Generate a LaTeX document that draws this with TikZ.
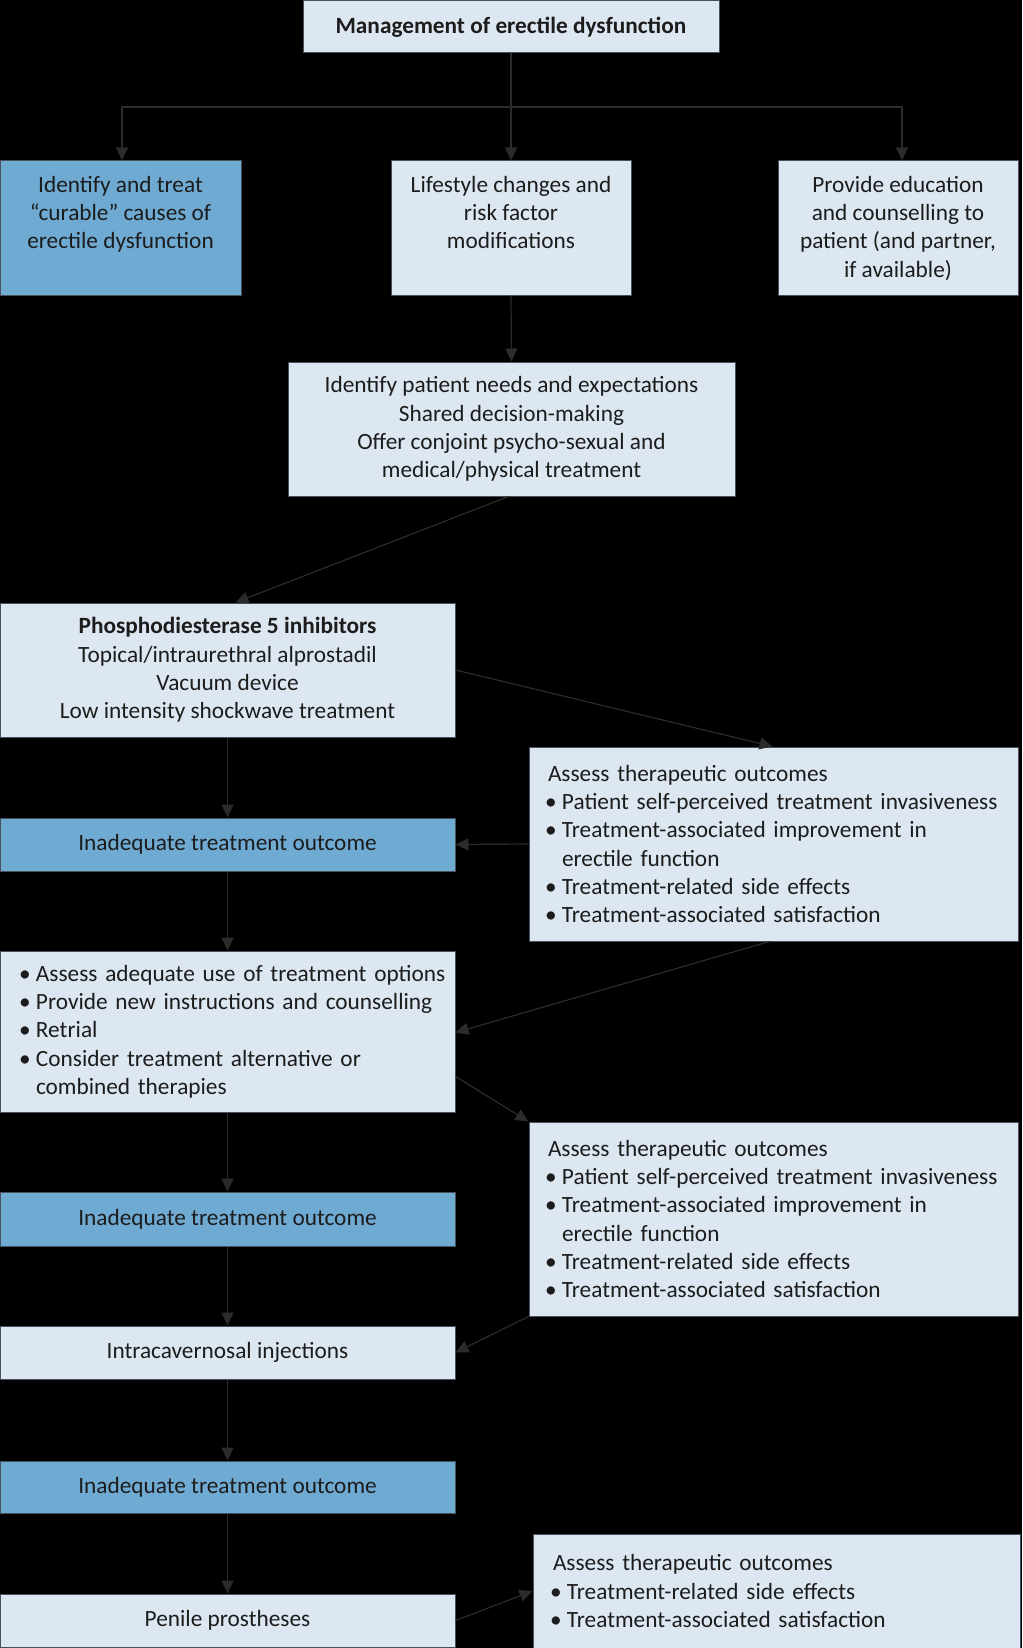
\documentclass[tikz,border=0pt]{standalone}
\usepackage{fontspec}
\setmainfont{Carlito}
\usetikzlibrary{arrows.meta,calc}
\definecolor{lightfill}{HTML}{DDE7F2}
\definecolor{darkfill}{HTML}{6FAAD3}
\definecolor{boxedge}{HTML}{46525E}
\definecolor{arrowc}{HTML}{2B2B2B}
\definecolor{txt}{HTML}{1C1C1C}
\newcommand{\bulitem}{\makebox[14pt][l]{\hspace{-3pt}•}}
\newcommand{\hangind}{\hspace*{14pt}}
\tikzset{
  box/.style={draw=boxedge, line width=1pt, fill=lightfill, text=txt, inner sep=0pt, align=center,
    font=\fontsize{23.3}{28.3}\selectfont},
  darkbox/.style={box, fill=darkfill},
  arr/.style={draw=arrowc, line width=1.2pt, -{Triangle[length=13pt,width=12pt]}},
}
\begin{document}
\begin{tikzpicture}[x=1pt,y=-1pt]
\fill[black] (0,0) rectangle (1022,1648);
\useasboundingbox (0,0) rectangle (1022,1648);

\node[box, minimum width=416, minimum height=52] (top) at (511,27) {\textbf{Management of erectile dysfunction}};

\node[darkbox] (L1) at (120.5,228) {\parbox[c][134pt][t]{241pt}{\centering\vspace{15pt}Identify and treat\\ “curable” causes of\\ erectile dysfunction}};
\node[box] (M1) at (511,228) {\parbox[c][134pt][t]{240pt}{\centering\vspace{15pt}Lifestyle changes and\\ risk factor\\ modifications}};
\node[box] (R1) at (898,228) {\parbox[c][134pt][t]{240pt}{\centering\vspace{15pt}Provide education\\ and counselling to\\ patient (and partner,\\ if available)}};

\node[box, minimum width=447, minimum height=134] (ident) at (511.5,429) {Identify patient needs and expectations\\ Shared decision-making\\ Offer conjoint psycho-sexual and\\ medical/physical treatment};

\node[box, minimum width=455, minimum height=134] (phos) at (227.5,670) {\textbf{Phosphodiesterase 5 inhibitors}\\ Topical/intraurethral alprostadil\\ Vacuum device\\ Low intensity shockwave treatment};

\node[box, align=left, text width=451pt, inner xsep=19pt, minimum height=194] (as1) at (773.5,844) {Assess therapeutic outcomes\\ \bulitem \mbox{Patient self-perceived treatment invasiveness}\\ \bulitem Treatment-associated improvement in\\ \hangind erectile function\\ \bulitem Treatment-related side effects\\ \bulitem Treatment-associated satisfaction};

\node[darkbox, minimum width=455, minimum height=53] (inad1) at (227.5,844.5) {Inadequate treatment outcome};

\node[box, align=left, text width=411pt, inner xsep=22pt, minimum height=161] (bul) at (227.5,1031.5) {\bulitem \mbox{Assess adequate use of treatment options}\\ \bulitem \mbox{Provide new instructions and counselling}\\ \bulitem Retrial\\ \bulitem Consider treatment alternative or\\ \hangind combined therapies};

\node[box, align=left, text width=451pt, inner xsep=19pt, minimum height=194] (as2) at (773.5,1219) {Assess therapeutic outcomes\\ \bulitem \mbox{Patient self-perceived treatment invasiveness}\\ \bulitem Treatment-associated improvement in\\ \hangind erectile function\\ \bulitem Treatment-related side effects\\ \bulitem Treatment-associated satisfaction};

\node[darkbox, minimum width=455, minimum height=54] (inad2) at (227.5,1219) {Inadequate treatment outcome};
\node[box, minimum width=455, minimum height=53] (intra) at (227.5,1352.5) {Intracavernosal injections};
\node[darkbox, minimum width=455, minimum height=52] (inad3) at (227.5,1487) {Inadequate treatment outcome};
\node[box, minimum width=455, minimum height=53] (pen) at (227.5,1620.5) {Penile prostheses};

\node[box, align=left, text width=447pt, inner xsep=20pt, minimum height=114] (as3) at (776.5,1591) {Assess therapeutic outcomes\\ \bulitem Treatment-related side effects\\ \bulitem Treatment-associated satisfaction};

\coordinate (split) at (511,107);
\draw[arr] (top.south) -- (M1.north);
\draw[arr] (split) -| ([xshift=1.5pt]L1.north);
\draw[arr] (split) -| ([xshift=4pt]R1.north);
\draw[arr] (M1.south) -- (ident.north);
\draw[arr] ([xshift=-3pt]ident.south) -- ([xshift=8pt]phos.north);
\draw[arr] (phos.east) -- ([xshift=-1pt]as1.north);
\draw[arr] (phos.south) -- (inad1.north);
\draw[arr] (as1.west) -- (inad1.east);
\draw[arr] (inad1.south) -- (bul.north);
\draw[arr] ([xshift=-4pt]as1.south) -- ([yshift=-1pt]bul.east);
\draw[arr] ([yshift=-45pt]bul.east) -- (as2.north west);
\draw[arr] (bul.south) -- (inad2.north);
\draw[arr] (inad2.south) -- (intra.north);
\draw[arr] (as2.south west) -- (intra.east);
\draw[arr] (intra.south) -- (inad3.north);
\draw[arr] (inad3.south) -- (pen.north);
\draw[arr] (pen.east) -- (as3.west);
\end{tikzpicture}
\end{document}
